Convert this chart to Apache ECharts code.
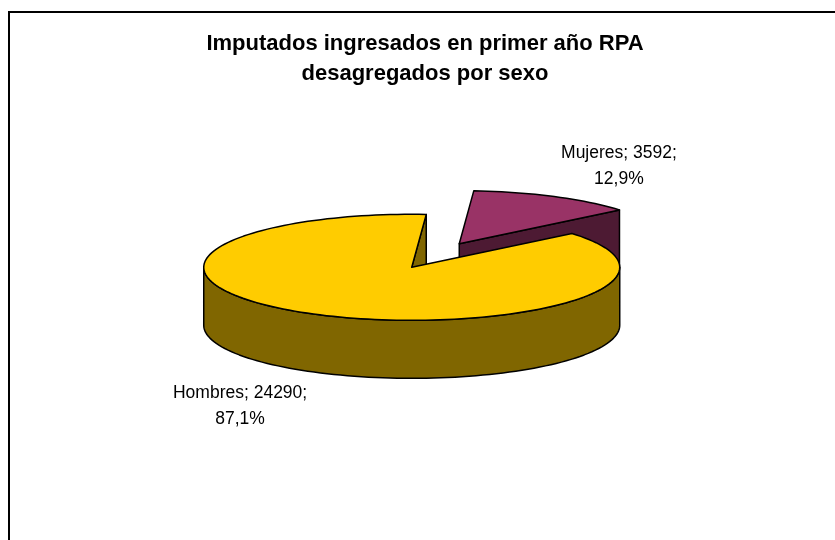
<!DOCTYPE html>
<html><head><meta charset="utf-8">
<script src="https://cdn.jsdelivr.net/npm/echarts@6/dist/echarts.min.js"></script>
<style>html,body{margin:0;padding:0;background:#fff}#c{width:835px;height:540px}</style>
</head><body><div id="c"></div>
<script>
const categories = ['Mujeres', 'Hombres'];
const values = [3592, 24290];
const topColors = ['#993366', '#FFCC00'];
const sideColors = ['#4D1A33', '#806600'];
const titleText = 'Imputados ingresados en primer año RPA\ndesagregados por sexo';

const total = values.reduce((a, b) => a + b, 0);
const START = 86;          // first slice start angle (deg, drawn clockwise)
const CX = 435.5, CY = 255.5, RX = 208, RY = 53, DEPTH = 58, EXPLODE = 0.25;
const LABEL_R = 1.68;
const LABEL_NUDGE = [[0, 2], [-12, 2]];   // label layout nudges (px)

const rad = d => d * Math.PI / 180;
const spans = values.map(v => v / total * 360);
const ranges = [];
let cur = START;
spans.forEach(s => { ranges.push([cur - s, cur]); cur -= s; });

function pctText(v) { return (v / total * 100).toFixed(1).replace('.', ',') + '%'; }

function renderItem(params, api) {
  const i = params.dataIndex;
  const [a0, a1] = ranges[i];
  const m = (a0 + a1) / 2;
  const cx = CX + EXPLODE * RX * Math.cos(rad(m));
  const cy = CY - EXPLODE * RY * Math.sin(rad(m));
  const P = (a, dz) => [cx + RX * Math.cos(rad(a)), cy - RY * Math.sin(rad(a)) + (dz || 0)];
  const arc = (s, e, dz) => {
    const n = Math.max(2, Math.ceil(Math.abs(e - s) / 2));
    const pts = [];
    for (let k = 0; k <= n; k++) pts.push(P(s + (e - s) * k / n, dz));
    return pts;
  };
  const line = { stroke: '#000', lineWidth: 1.5, lineJoin: 'round' };
  const children = [];
  const face = a => [[cx, cy], P(a, 0), P(a, DEPTH), [cx, cy + DEPTH]];
  if (Math.sin(rad(a0 - 90)) < 0)
    children.push({ type: 'polygon', shape: { points: face(a0) }, style: Object.assign({ fill: sideColors[i] }, line) });
  if (Math.sin(rad(a1 + 90)) < 0)
    children.push({ type: 'polygon', shape: { points: face(a1) }, style: Object.assign({ fill: sideColors[i] }, line) });
  for (let k = -2; k <= 2; k++) {
    const s = Math.max(a0, 180 + 360 * k), e = Math.min(a1, 360 + 360 * k);
    if (e > s) {
      const pts = arc(s, e, 0).concat(arc(e, s, DEPTH));
      children.push({ type: 'polygon', shape: { points: pts }, style: Object.assign({ fill: sideColors[i] }, line) });
    }
  }
  children.push({ type: 'polygon', shape: { points: [[cx, cy]].concat(arc(a0, a1, 0)) }, style: Object.assign({ fill: topColors[i] }, line) });
  const sm = Math.sin(rad(m));
  const lx = cx + LABEL_R * RX * Math.cos(rad(m)) + LABEL_NUDGE[i][0];
  const ly = cy - LABEL_R * RY * sm + (sm < 0 ? DEPTH : 0) + LABEL_NUDGE[i][1];
  children.push({
    type: 'text',
    style: {
      text: categories[i] + '; ' + api.value(0) + ';\n' + pctText(api.value(0)),
      x: lx, y: ly, align: 'center', verticalAlign: 'middle',
      fontSize: 17.5, lineHeight: 26, fontFamily: 'Liberation Sans, Arial, sans-serif', fill: '#000'
    }
  });
  return { type: 'group', children };
}

const chart = echarts.init(document.getElementById('c'), null, { renderer: 'canvas' });
chart.setOption({
  backgroundColor: '#fff',
  animation: false,
  title: {
    text: titleText, left: 420, top: 24, textAlign: 'center',
    textStyle: { fontSize: 22, fontWeight: 'bold', lineHeight: 30, fontFamily: 'Liberation Sans, Arial, sans-serif', color: '#000' }
  },
  graphic: [{
    type: 'rect', shape: { x: 9, y: 12, width: 900, height: 600 },
    style: { fill: 'none', stroke: '#000', lineWidth: 2 }, silent: true, z: -1
  }],
  series: [{
    type: 'custom', coordinateSystem: 'none', renderItem,
    data: values.map(v => [v])
  }]
});
</script></body></html>
